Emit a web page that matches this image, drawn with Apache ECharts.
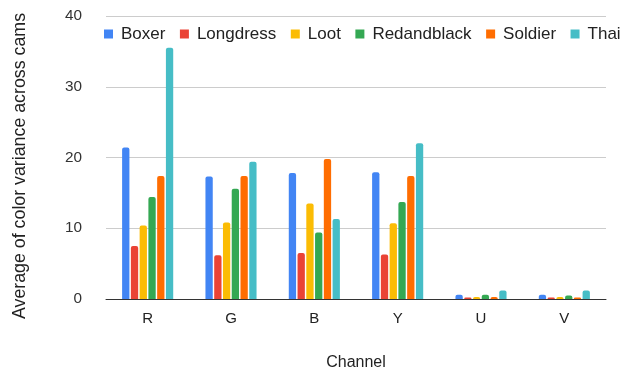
<!DOCTYPE html>
<html>
<head>
<meta charset="utf-8">
<script src="https://cdn.jsdelivr.net/npm/echarts@6/dist/echarts.min.js"></script>
<style>
  html, body { margin: 0; padding: 0; background: #fff; }
  #chart { width: 626px; height: 373px; }
</style>
</head>
<body>
<div id="chart"></div>
<script>
// Colour channels on the x axis
const channels = ['R', 'G', 'B', 'Y', 'U', 'V'];

// Average colour variance across cameras, per sequence
const boxer       = [21.4, 17.3, 17.8, 17.9, 0.6, 0.6];
const longdress   = [7.5, 6.2, 6.5, 6.3, 0.2, 0.2];
const loot        = [10.4, 10.8, 13.5, 10.7, 0.3, 0.3];
const redandblack = [14.4, 15.6, 9.4, 13.7, 0.6, 0.5];
const soldier     = [17.4, 17.4, 19.8, 17.4, 0.3, 0.2];
const thai        = [35.5, 19.4, 11.3, 22.0, 1.2, 1.2];

const yTicks = [0, 10, 20, 30, 40];

const seriesDefs = [
  ['Boxer', boxer, '#4285F4'],
  ['Longdress', longdress, '#EA4335'],
  ['Loot', loot, '#FBBC04'],
  ['Redandblack', redandblack, '#34A853'],
  ['Soldier', soldier, '#FF6D01'],
  ['Thai', thai, '#46BDC6']
];

const chart = echarts.init(document.getElementById('chart'), null, { renderer: 'canvas' });
const font = 'Liberation Sans, Arial, sans-serif';

chart.setOption({
  animation: false,
  textStyle: { fontFamily: font },
  legend: {
    top: 20,
    left: 99,
    itemWidth: 9,
    itemHeight: 9,
    itemGap: 14.5,
    icon: 'rect',
    textStyle: { fontSize: 17, lineHeight: 18, color: '#222', fontFamily: font, padding: [0, 0, 0, 3] },
    data: seriesDefs.map(d => d[0])
  },
  grid: {
    left: 106, right: 20, top: 16, bottom: 74,
    containLabel: false,
    outerBoundsMode: 'none'
  },
  xAxis: {
    type: 'category',
    data: channels,
    name: 'Channel',
    nameLocation: 'middle',
    nameGap: 56,
    nameTextStyle: { fontSize: 16, color: '#222', fontFamily: font },
    axisLine: { lineStyle: { color: '#333', width: 1 } },
    axisTick: { show: false },
    axisLabel: { fontSize: 15, color: '#222', margin: 12, fontFamily: font }
  },
  yAxis: {
    type: 'value',
    min: yTicks[0],
    max: yTicks[yTicks.length - 1],
    interval: 10,
    name: 'Average of color variance across cams',
    nameLocation: 'middle',
    nameGap: 77,
    nameTextStyle: { fontSize: 17.8, color: '#222', fontFamily: font, padding: [0, 17, 0, 0] },
    axisLine: { show: false },
    axisTick: { show: false },
    axisLabel: { fontSize: 15.3, color: '#333', margin: 24, fontFamily: font },
    splitLine: { lineStyle: { color: '#ccc', width: 1 } }
  },
  series: seriesDefs.map(([name, data, color]) => ({
    name,
    type: 'bar',
    data,
    barWidth: 7.3,
    barGap: '20%',
    itemStyle: { color, borderRadius: [2, 2, 0, 0] }
  }))
});
</script>
</body>
</html>
